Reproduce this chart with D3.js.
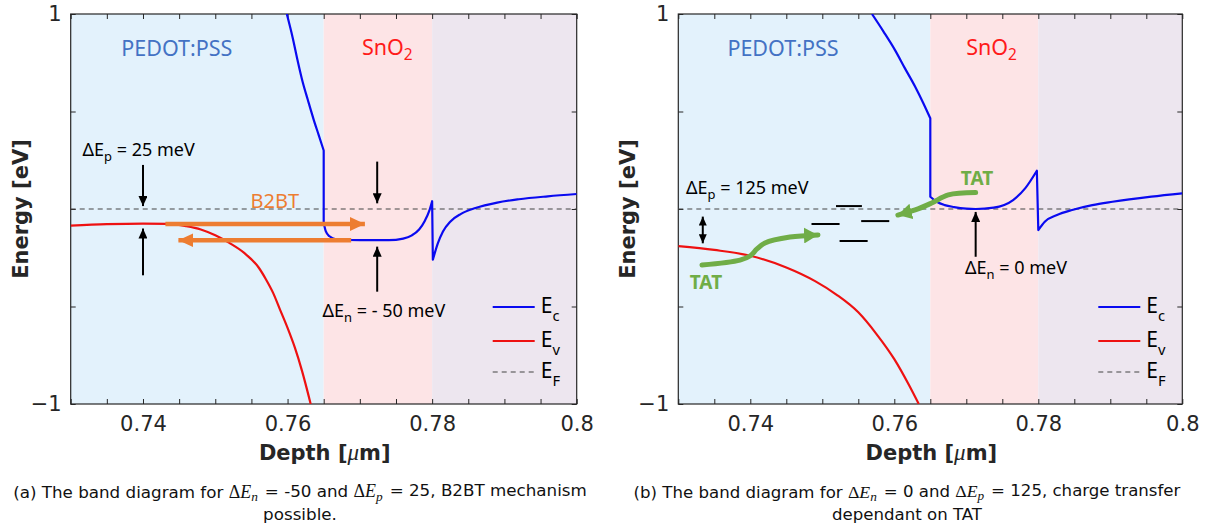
<!DOCTYPE html>
<html><head><meta charset="utf-8">
<script src="https://cdn.jsdelivr.net/npm/d3@7"></script>
<style>body{margin:0;background:#fff} svg{display:block}</style>
</head><body><svg id="c" width="1219" height="526"></svg>
<script>
// ---------------- DATA ----------------
const depthDomain = [0.73, 0.8];
const energyDomain = [-1, 1];
const depthTickLabels = [0.74, 0.76, 0.78, 0.8];
const energyTickLabels = [-1, 1];
const layerBounds = [0.73, 0.765, 0.78, 0.8];
const fermiLevel = 0;

// (a) band edges [depth um, energy eV]
const ecA = [[0.7599,1.0],[0.7607,0.88],[0.7614,0.76],[0.7621,0.65],[0.7628,0.56],[0.7636,0.46],[0.7643,0.38],[0.765,0.30],
  [0.765,-0.07],[0.7653,-0.115],[0.7658,-0.14],[0.7667,-0.155],[0.770,-0.16],[0.774,-0.16],[0.776,-0.152],[0.7772,-0.135],
  [0.7782,-0.105],[0.779,-0.06],[0.7796,-0.01],[0.78,0.04],[0.7801,-0.26],[0.7808,-0.175],[0.7815,-0.115],[0.7825,-0.065],
  [0.784,-0.025],[0.786,0.005],[0.789,0.033],[0.792,0.05],[0.796,0.065],[0.8,0.077]];
const evA = [[0.730,-0.085],[0.735,-0.078],[0.740,-0.075],[0.7435,-0.076],[0.746,-0.088],[0.748,-0.105],[0.750,-0.135],
  [0.752,-0.175],[0.754,-0.225],[0.756,-0.30],[0.757,-0.36],[0.758,-0.43],[0.759,-0.52],[0.760,-0.61],[0.761,-0.71],
  [0.762,-0.83],[0.7632,-1.0]];
// (b) band edges
const ecB = [[0.7569,1.0],[0.7585,0.91],[0.7601,0.815],[0.7615,0.72],[0.7629,0.627],[0.764,0.545],[0.765,0.465],
  [0.765,0.063],[0.7659,0.037],[0.767,0.02],[0.7683,0.01],[0.770,0.002],[0.7713,0.0],[0.7738,0.007],[0.7765,0.046],
  [0.7782,0.107],[0.7798,0.196],[0.7800,-0.108],[0.7809,-0.065],[0.7826,-0.031],[0.7847,-0.005],[0.7875,0.02],
  [0.7903,0.037],[0.7957,0.063],[0.8,0.08]];
const evB = [[0.730,-0.19],[0.735,-0.21],[0.740,-0.24],[0.745,-0.30],[0.749,-0.37],[0.752,-0.44],[0.755,-0.53],
  [0.7575,-0.64],[0.760,-0.77],[0.762,-0.90],[0.7634,-1.0]];
// (b) trap levels [from depth, to depth, energy]
const trapsB = [[0.7519,0.7555,0.015],[0.7485,0.7524,-0.077],[0.7554,0.7593,-0.062],[0.7524,0.7563,-0.164]];

// annotations (data units)
const b2btArrowsA = [[[0.7431,-0.077],[0.7707,-0.077]],[[0.7688,-0.16],[0.7449,-0.16]]];
const blackArrowsA = [[[0.74,0.226],[0.74,0.015]],[[0.74,-0.34],[0.74,-0.10]],[[0.7724,0.243],[0.7724,0.029]],[[0.7724,-0.424],[0.7724,-0.193]]];
const blackArrowsB = [[[0.7713,-0.245],[0.7713,-0.015]]];
const doubleArrowB = [[0.7334,-0.039],[0.7334,-0.176]];
const tatLowerB = [[0.73329,-0.287],[0.73857,-0.262],[0.73996,-0.241],[0.74093,-0.205],[0.74204,-0.174],[0.74551,-0.144],[0.7494,-0.133]];
const tatUpperB = [[0.7713,0.084],[0.7675,0.072],[0.7652,0.031],[0.7629,-0.005],[0.7605,-0.031]];

const legendSubs = ["c","v","F"];
const captionA = [["(a) The band diagram for ",""],["E","n"],[" = -50 and ",""],["E","p"],[" = 25, B2BT mechanism",""]];
const captionA2 = "possible.";
const captionB = [["(b) The band diagram for ",""],["E","n"],[" = 0 and ",""],["E","p"],[" = 125, charge transfer",""]];
const captionB2 = "dependant on TAT";

// ---------------- STYLE ----------------
const layerColors = ["#e3f2fc","#fde4e6","#ede6ef"];
const C_EC = "#0a0af0", C_EV = "#ee1111", C_AX = "#262626";
const C_OR = "#ed7d31", C_GR = "#70ad47";
const SANS = "'Noto Sans', 'Open Sans', sans-serif";
const TICKF = "'DejaVu Sans', sans-serif";
const CAPF = "'DejaVu Sans', sans-serif";
const SERIF = "'Liberation Serif', 'DejaVu Serif', serif";
const plotTop = 14, plotBottom = 404;

const svg = d3.select("#c");
const defs = svg.append("defs");
function marker(id, color, len, wid, orient) {
  defs.append("marker").attr("id", id).attr("markerUnits","userSpaceOnUse")
    .attr("markerWidth", len).attr("markerHeight", wid).attr("refX", len).attr("refY", wid/2)
    .attr("orient", orient || "auto")
    .append("path").attr("d", `M0,0 L${len},${wid/2} L0,${wid} Z`).attr("fill", color);
}
marker("mk", "#000", 10, 9);
marker("mk2", "#000", 9, 8, "auto-start-reverse");
marker("mo", C_OR, 15, 14);
marker("mg", C_GR, 14, 16);

function rich(g, x, y, parts, o) {
  const size = o.size;
  const t = g.append("text").attr("x", x).attr("y", y).attr("text-anchor", o.anchor || "start")
    .attr("font-size", size).attr("fill", o.fill || "#000").attr("font-family", o.family || SANS)
    .attr("font-weight", o.weight || "normal");
  let shift = 0;
  parts.forEach(p => {
    const ts = t.append("tspan").text(p.t);
    const want = p.sub ? (o.subShift || size*0.32) : 0;
    if (want !== shift) { ts.attr("dy", want - shift); shift = want; }
    if (p.sub) ts.attr("font-size", size * (o.subScale || 0.72));
  });
  return t;
}

// split a band into smooth runs at vertical jumps, join runs with straight segments
function bandPath(pts, x, y) {
  const runs = [[pts[0]]];
  for (let i = 1; i < pts.length; i++) {
    const a = pts[i-1], b = pts[i];
    if (b[0] - a[0] < 0.0003 && Math.abs(b[1] - a[1]) > 0.08) runs.push([b]);
    else runs[runs.length-1].push(b);
  }
  const ln = d3.line().x(p => x(p[0])).y(p => y(p[1])).curve(d3.curveMonotoneX);
  return runs.map((r, i) => {
    const s = r.length > 1 ? ln(r) : `M${x(r[0][0])},${y(r[0][1])}`;
    return i === 0 ? s : "L" + s.slice(1);
  }).join("");
}

function panel(left, right, d) {
  const x = d3.scaleLinear().domain(depthDomain).range([left, right]);
  const y = d3.scaleLinear().domain(energyDomain).range([plotBottom, plotTop]);
  const g = svg.append("g");
  for (let i = 0; i < 3; i++) {
    g.append("rect").attr("x", x(layerBounds[i])).attr("y", plotTop)
      .attr("width", x(layerBounds[i+1]) - x(layerBounds[i])).attr("height", plotBottom - plotTop)
      .attr("fill", layerColors[i]);
  }
  const minor = d3.range(15).map(i => +(depthDomain[0] + i*0.005).toFixed(3));
  const ax = g.append("g").attr("transform", `translate(0,${plotBottom})`)
    .call(d3.axisBottom(x).tickValues(minor).tickSize(-5).tickFormat(v => depthTickLabels.some(t => Math.abs(t-v)<1e-6) ? d3.format("")(v) : ""));
  ax.select(".domain").remove();
  ax.selectAll(".tick line").attr("stroke", C_AX);
  ax.selectAll("text").attr("font-family", TICKF).attr("font-size", 21).attr("fill", C_AX).attr("dy", "1.15em");
  const axT = g.append("g").attr("transform", `translate(0,${plotTop})`)
    .call(d3.axisTop(x).tickValues(minor).tickSize(-5).tickFormat(""));
  axT.select(".domain").remove(); axT.selectAll(".tick line").attr("stroke", C_AX);
  const yt = [-1,-0.5,0,0.5,1];
  const ay = g.append("g").attr("transform", `translate(${left},0)`)
    .call(d3.axisLeft(y).tickValues(yt).tickSize(-5).tickPadding(9)
      .tickFormat(v => energyTickLabels.includes(v) ? (v < 0 ? "\u2212" + Math.abs(v) : String(v)) : ""));
  ay.select(".domain").remove(); ay.selectAll(".tick line").attr("stroke", C_AX);
  ay.selectAll("text").attr("font-family", TICKF).attr("font-size", 21).attr("fill", C_AX);
  const ayR = g.append("g").attr("transform", `translate(${right},0)`)
    .call(d3.axisRight(y).tickValues(yt).tickSize(-5).tickFormat(""));
  ayR.select(".domain").remove(); ayR.selectAll(".tick line").attr("stroke", C_AX);
  g.append("rect").attr("x", left).attr("y", plotTop).attr("width", right-left).attr("height", plotBottom-plotTop)
    .attr("fill", "none").attr("stroke", C_AX).attr("stroke-width", 1.2);

  g.append("line").attr("x1", x(depthDomain[0])).attr("x2", x(depthDomain[1]))
    .attr("y1", y(fermiLevel)).attr("y2", y(fermiLevel))
    .attr("stroke", "#444").attr("stroke-width", 1.1).attr("stroke-dasharray", "5,4");

  const cid = "cp" + Math.round(left);
  g.append("clipPath").attr("id", cid).append("rect").attr("x", left).attr("y", plotTop).attr("width", right-left).attr("height", plotBottom-plotTop);
  const gl = g.append("g").attr("clip-path", `url(#${cid})`);
  gl.append("path").attr("d", bandPath(d.ev, x, y)).attr("fill", "none").attr("stroke", C_EV).attr("stroke-width", 2.2);
  gl.append("path").attr("d", bandPath(d.ec, x, y)).attr("fill", "none").attr("stroke", C_EC).attr("stroke-width", 2.2).attr("stroke-linejoin","round");

  g.append("text").attr("x", x(d.pedot[0])).attr("y", y(d.pedot[1])).attr("dominant-baseline","central")
    .attr("text-anchor","middle").attr("font-family", SANS).attr("font-size", 21.5).attr("fill", "#4472c4").text("PEDOT:PSS");
  rich(g, x(d.sno[0]), y(d.sno[1]) + 7.5, [{t:"SnO"},{t:"2",sub:true}], {size:21.5, anchor:"middle", fill:"#ff1a1a", subShift:5});

  const ly = [307, 341, 372], lcol = [C_EC, C_EV, "#444"];
  for (let i = 0; i < 3; i++) {
    const l = g.append("line").attr("x1", right-84).attr("x2", right-42).attr("y1", ly[i]).attr("y2", ly[i])
      .attr("stroke", lcol[i]).attr("stroke-width", i < 2 ? 2.2 : 1.1);
    if (i === 2) l.attr("stroke-dasharray", "5,4");
    rich(g, right-36, ly[i] + 6, [{t:"E"},{t:legendSubs[i], sub:true}], {size:21, fill:"#000", subShift:8, subScale:0.7});
  }

  g.append("text").attr("x", (left+right)/2 + 1).attr("y", 460).attr("text-anchor","middle")
    .attr("font-family", TICKF).attr("font-weight","bold").attr("font-size", 21).attr("fill", C_AX)
    .call(t => { t.append("tspan").text("Depth ["); t.append("tspan").attr("font-family", SERIF).attr("font-style","italic").attr("font-weight","normal").attr("font-size",23).text("\u03bc"); t.append("tspan").text("m]"); });
  g.append("text").attr("transform", `translate(${left-50},${(plotTop+plotBottom)/2}) rotate(-90)`)
    .attr("text-anchor","middle").attr("dominant-baseline","central")
    .attr("font-family", TICKF).attr("font-weight","bold").attr("font-size", 21).attr("fill", C_AX).text("Energy [eV]");

  return {g, x, y};
}

// ---------- panel (a) ----------
const A = panel(70.7, 576.7, {ec: ecA, ev: evA, pedot:[0.74468,0.828], sno:[0.7738,0.828]});
b2btArrowsA.forEach(a => A.g.append("line").attr("x1", A.x(a[0][0])).attr("y1", A.y(a[0][1]))
  .attr("x2", A.x(a[1][0])).attr("y2", A.y(a[1][1])).attr("stroke", C_OR).attr("stroke-width", 4.5).attr("marker-end","url(#mo)"));
blackArrowsA.forEach(a => A.g.append("line").attr("x1", A.x(a[0][0])).attr("y1", A.y(a[0][1]))
  .attr("x2", A.x(a[1][0])).attr("y2", A.y(a[1][1])).attr("stroke", "#000").attr("stroke-width", 2).attr("marker-end","url(#mk)"));
A.g.append("text").attr("x", A.x(0.75824)).attr("y", A.y(0.046)).attr("dominant-baseline","central").attr("text-anchor","middle")
  .attr("font-family", SANS).attr("font-size", 20).attr("fill", C_OR).text("B2BT");
rich(A.g, A.x(0.73164), A.y(0.303) + 6, [{t:"\u0394E"},{t:"p",sub:true},{t:" = 25 meV"}], {size:18, subShift:5});
rich(A.g, A.x(0.76483), A.y(-0.523) + 6, [{t:"\u0394E"},{t:"n",sub:true},{t:" = - 50 meV"}], {size:18, subShift:5});

// ---------- panel (b) ----------
const B = panel(678.3, 1182.3, {ec: ecB, ev: evB, pedot:[0.74454,0.828], sno:[0.7735,0.828]});
trapsB.forEach(t => B.g.append("line").attr("x1", B.x(t[0])).attr("x2", B.x(t[1])).attr("y1", B.y(t[2])).attr("y2", B.y(t[2]))
  .attr("stroke", "#000").attr("stroke-width", 2));
blackArrowsB.forEach(a => B.g.append("line").attr("x1", B.x(a[0][0])).attr("y1", B.y(a[0][1]))
  .attr("x2", B.x(a[1][0])).attr("y2", B.y(a[1][1])).attr("stroke", "#000").attr("stroke-width", 2).attr("marker-end","url(#mk)"));
B.g.append("line").attr("x1", B.x(doubleArrowB[0][0])).attr("y1", B.y(doubleArrowB[0][1]))
  .attr("x2", B.x(doubleArrowB[1][0])).attr("y2", B.y(doubleArrowB[1][1])).attr("stroke", "#000").attr("stroke-width", 2)
  .attr("marker-end","url(#mk2)").attr("marker-start","url(#mk2)");
const gline = d3.line().x(p => B.x(p[0])).y(p => B.y(p[1])).curve(d3.curveCatmullRom.alpha(0.5));
[tatLowerB, tatUpperB].forEach(pts => B.g.append("path").attr("d", gline(pts)).attr("fill","none")
  .attr("stroke", C_GR).attr("stroke-width", 5).attr("stroke-linecap","round").attr("marker-end","url(#mg)"));
B.g.append("text").attr("x", B.x(0.77149)).attr("y", B.y(0.159)).attr("dominant-baseline","central").attr("text-anchor","middle")
  .attr("font-family", SANS).attr("font-weight","bold").attr("font-size", 19).attr("fill", C_GR).text("TAT");
B.g.append("text").attr("x", B.x(0.73384)).attr("y", B.y(-0.374)).attr("dominant-baseline","central").attr("text-anchor","middle")
  .attr("font-family", SANS).attr("font-weight","bold").attr("font-size", 19).attr("fill", C_GR).text("TAT");
rich(B.g, B.x(0.73107), B.y(0.108) + 6, [{t:"\u0394E"},{t:"p",sub:true},{t:" = 125 meV"}], {size:18, subShift:5});
rich(B.g, B.x(0.76982), B.y(-0.303) + 6, [{t:"\u0394E"},{t:"n",sub:true},{t:" = 0 meV"}], {size:18, subShift:5});

// ---------- captions (font size fitted to the reference line width) ----------
function caption(cx, y1, parts, line2, targetW) {
  const t = svg.append("text").attr("x", cx).attr("y", y1).attr("text-anchor","middle")
    .attr("font-family", CAPF).attr("font-size", 15).attr("fill", "#111");
  parts.forEach(p => {
    if (p[1] === "") { t.append("tspan").text(p[0]); }
    else {
      t.append("tspan").attr("font-family", SERIF).attr("font-size","1.07em").text("\u0394");
      t.append("tspan").attr("font-family", SERIF).attr("font-style","italic").attr("font-size","1.07em").text(p[0]);
      t.append("tspan").attr("font-family", SERIF).attr("font-style","italic").attr("font-size","0.8em").attr("dy","0.25em").text(p[1]);
      t.append("tspan").attr("dy","-0.25em").text("\u200a");
    }
  });
  const w = t.node().getBBox().width;
  const fs = 15 * targetW / w;
  t.attr("font-size", fs);
  svg.append("text").attr("x", cx).attr("y", y1 + 22).attr("text-anchor","middle")
    .attr("font-family", CAPF).attr("font-size", fs).attr("fill", "#111").text(line2);
}
caption(300, 498, captionA, captionA2, 574);
caption(907, 498, captionB, captionB2, 548);
</script></body></html>
